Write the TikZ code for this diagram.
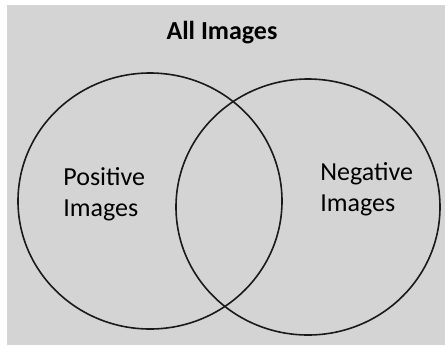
\documentclass[tikz,border=0pt]{standalone}
\usepackage{fontspec}
\setmainfont{Carlito}
\usetikzlibrary{positioning}
\definecolor{panelgrey}{HTML}{D4D4D4}
\definecolor{setline}{HTML}{1A1A1A}

\begin{document}
\begin{tikzpicture}[
    x=0.5pt, y=-0.5pt,
    font=\rmfamily,
    setedge/.style = {draw=setline, line width=0.8pt},
    title/.style   = {font=\rmfamily\bfseries\fontsize{13}{15.5}\selectfont,
                      text=black, inner sep=0pt},
    setlbl/.style  = {font=\rmfamily\fontsize{13}{15.5}\selectfont,
                      text=black, align=left, inner sep=0pt},
  ]

  % ===================================================================
  % Canvas: white margin + grey panel
  % ===================================================================
  \useasboundingbox (0,0) rectangle (445,345);
  \fill[white] (0,0) rectangle (445,345);
  \fill[panelgrey] (7,5) rectangle (445,345);

  % ===================================================================
  % Title
  % ===================================================================
  \node[title, anchor=base] (all) at (222,39) {All Images};

  % ===================================================================
  % The two overlapping sets
  % ===================================================================
  \coordinate (posc) at (150,201);
  \coordinate (negc) at (308,207);
  \draw[setedge] (posc) ellipse [x radius=132, y radius=128];
  \draw[setedge] (negc) ellipse [x radius=132, y radius=128];

  % set labels
  \node[setlbl, anchor=north west] (pos) at (63,167) {Positive\\Images};
  \node[setlbl, anchor=north west] (neg) at (320,162) {Negative\\Images};

\end{tikzpicture}
\end{document}
